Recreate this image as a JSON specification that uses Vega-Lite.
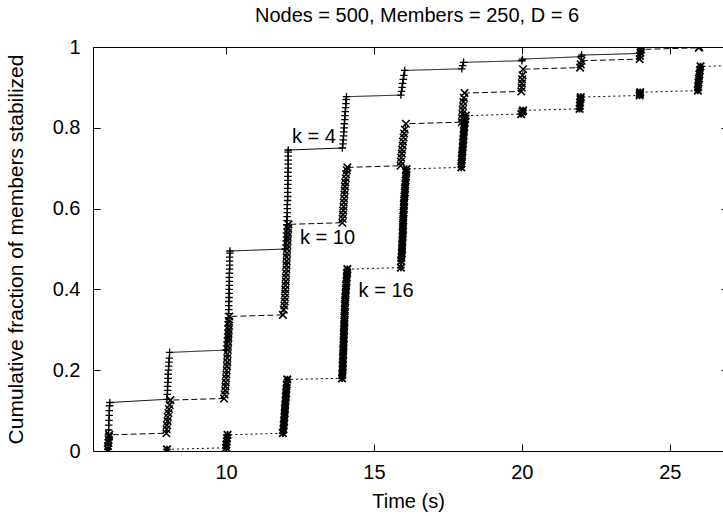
{
 "$schema": "https://vega.github.io/schema/vega-lite/v6.json",
 "width": 630,
 "height": 404,
 "autosize": {"type": "none"},
 "padding": {"left": 93, "top": 47, "right": 0, "bottom": 65},
 "background": "white",
 "config": {
  "view": {"stroke": null},
  "font": "Liberation Sans",
  "axis": {"domainColor": "black", "tickColor": "black", "labelColor": "black", "titleColor": "black", "labelFontSize": 20, "titleFontSize": 20, "titleFontWeight": "normal", "grid": false, "domainWidth": 1, "tickWidth": 1, "labelFont": "Liberation Sans", "titleFont": "Liberation Sans"}
 },
 "title": {"text": "Nodes = 500, Members = 250, D = 6", "fontSize": 20, "fontWeight": "normal", "font": "Liberation Sans", "color": "black", "anchor": "middle", "baseline": "alphabetic", "offset": -5, "dx": 9},
 "datasets": {
  "runs": [
   {"k":"4","t":6,"f":0.004},{"k":"4","t":6.01,"f":0.016},{"k":"4","t":6.02,"f":0.028},{"k":"4","t":6.02,"f":0.04},{"k":"4","t":6.03,"f":0.052},{"k":"4","t":6.03,"f":0.064},{"k":"4","t":6.04,"f":0.076},{"k":"4","t":6.05,"f":0.088},{"k":"4","t":6.05,"f":0.1},{"k":"4","t":6.06,"f":0.112},{"k":"4","t":6.07,"f":0.12},
   {"k":"4","t":8,"f":0.128},{"k":"4","t":8.01,"f":0.14},{"k":"4","t":8.02,"f":0.15},{"k":"4","t":8.02,"f":0.16},{"k":"4","t":8.03,"f":0.17},{"k":"4","t":8.04,"f":0.18},{"k":"4","t":8.04,"f":0.19},{"k":"4","t":8.05,"f":0.2},{"k":"4","t":8.06,"f":0.21},{"k":"4","t":8.07,"f":0.22},{"k":"4","t":8.08,"f":0.23},{"k":"4","t":8.09,"f":0.244},
   {"k":"4","t":10,"f":0.25},{"k":"4","t":10.02,"f":0.26},{"k":"4","t":10.03,"f":0.27},{"k":"4","t":10.04,"f":0.28},{"k":"4","t":10.05,"f":0.29},{"k":"4","t":10.06,"f":0.3},{"k":"4","t":10.06,"f":0.31},{"k":"4","t":10.07,"f":0.32},{"k":"4","t":10.08,"f":0.33},{"k":"4","t":10.08,"f":0.34},{"k":"4","t":10.09,"f":0.35},{"k":"4","t":10.09,"f":0.36},{"k":"4","t":10.09,"f":0.37},{"k":"4","t":10.1,"f":0.38},{"k":"4","t":10.1,"f":0.39},{"k":"4","t":10.1,"f":0.4},{"k":"4","t":10.11,"f":0.41},{"k":"4","t":10.11,"f":0.42},{"k":"4","t":10.11,"f":0.43},{"k":"4","t":10.11,"f":0.44},{"k":"4","t":10.12,"f":0.45},{"k":"4","t":10.12,"f":0.46},{"k":"4","t":10.12,"f":0.47},{"k":"4","t":10.12,"f":0.48},{"k":"4","t":10.13,"f":0.49},{"k":"4","t":10.13,"f":0.495},
   {"k":"4","t":12,"f":0.5},{"k":"4","t":12.02,"f":0.51},{"k":"4","t":12.03,"f":0.52},{"k":"4","t":12.04,"f":0.53},{"k":"4","t":12.04,"f":0.54},{"k":"4","t":12.05,"f":0.55},{"k":"4","t":12.05,"f":0.56},{"k":"4","t":12.06,"f":0.57},{"k":"4","t":12.06,"f":0.58},{"k":"4","t":12.07,"f":0.59},{"k":"4","t":12.07,"f":0.6},{"k":"4","t":12.07,"f":0.61},{"k":"4","t":12.08,"f":0.62},{"k":"4","t":12.08,"f":0.63},{"k":"4","t":12.08,"f":0.64},{"k":"4","t":12.08,"f":0.65},{"k":"4","t":12.09,"f":0.66},{"k":"4","t":12.09,"f":0.67},{"k":"4","t":12.09,"f":0.68},{"k":"4","t":12.09,"f":0.69},{"k":"4","t":12.1,"f":0.7},{"k":"4","t":12.1,"f":0.71},{"k":"4","t":12.1,"f":0.72},{"k":"4","t":12.1,"f":0.73},{"k":"4","t":12.1,"f":0.74},{"k":"4","t":12.1,"f":0.745},
   {"k":"4","t":13.93,"f":0.75},{"k":"4","t":13.95,"f":0.76},{"k":"4","t":13.96,"f":0.77},{"k":"4","t":13.97,"f":0.78},{"k":"4","t":13.98,"f":0.79},{"k":"4","t":13.99,"f":0.8},{"k":"4","t":14,"f":0.81},{"k":"4","t":14.01,"f":0.82},{"k":"4","t":14.02,"f":0.83},{"k":"4","t":14.03,"f":0.84},{"k":"4","t":14.04,"f":0.85},{"k":"4","t":14.05,"f":0.86},{"k":"4","t":14.06,"f":0.87},{"k":"4","t":14.07,"f":0.877},
   {"k":"4","t":15.91,"f":0.881},{"k":"4","t":15.93,"f":0.89},{"k":"4","t":15.95,"f":0.9},{"k":"4","t":15.97,"f":0.91},{"k":"4","t":15.99,"f":0.92},{"k":"4","t":16.01,"f":0.93},{"k":"4","t":16.04,"f":0.942},
   {"k":"4","t":17.97,"f":0.946},{"k":"4","t":18,"f":0.954},{"k":"4","t":18.03,"f":0.962},
   {"k":"4","t":20,"f":0.966},{"k":"4","t":20.02,"f":0.97},
   {"k":"4","t":22,"f":0.976},{"k":"4","t":22.02,"f":0.98},
   {"k":"4","t":24,"f":0.984},{"k":"4","t":24.01,"f":0.988},{"k":"4","t":24.02,"f":0.992},{"k":"4","t":24.03,"f":0.996},{"k":"4","t":24.04,"f":1.0},
   {"k":"10","t":6,"f":0.004},{"k":"10","t":6.01,"f":0.012},{"k":"10","t":6.02,"f":0.02},{"k":"10","t":6.03,"f":0.028},{"k":"10","t":6.04,"f":0.036},{"k":"10","t":6.05,"f":0.04},
   {"k":"10","t":7.98,"f":0.044},{"k":"10","t":7.99,"f":0.054},{"k":"10","t":8,"f":0.064},{"k":"10","t":8.02,"f":0.074},{"k":"10","t":8.03,"f":0.084},{"k":"10","t":8.05,"f":0.094},{"k":"10","t":8.07,"f":0.104},{"k":"10","t":8.09,"f":0.114},{"k":"10","t":8.12,"f":0.126},
   {"k":"10","t":9.93,"f":0.13},{"k":"10","t":9.95,"f":0.14},{"k":"10","t":9.97,"f":0.15},{"k":"10","t":9.98,"f":0.16},{"k":"10","t":9.99,"f":0.17},{"k":"10","t":10,"f":0.18},{"k":"10","t":10.01,"f":0.19},{"k":"10","t":10.02,"f":0.2},{"k":"10","t":10.03,"f":0.21},{"k":"10","t":10.04,"f":0.22},{"k":"10","t":10.04,"f":0.23},{"k":"10","t":10.05,"f":0.24},{"k":"10","t":10.06,"f":0.25},{"k":"10","t":10.06,"f":0.26},{"k":"10","t":10.07,"f":0.27},{"k":"10","t":10.08,"f":0.28},{"k":"10","t":10.08,"f":0.29},{"k":"10","t":10.09,"f":0.3},{"k":"10","t":10.1,"f":0.31},{"k":"10","t":10.1,"f":0.32},{"k":"10","t":10.11,"f":0.333},
   {"k":"10","t":11.92,"f":0.337},{"k":"10","t":11.95,"f":0.35},{"k":"10","t":11.97,"f":0.36},{"k":"10","t":11.98,"f":0.37},{"k":"10","t":11.99,"f":0.38},{"k":"10","t":12,"f":0.39},{"k":"10","t":12,"f":0.4},{"k":"10","t":12.01,"f":0.41},{"k":"10","t":12.02,"f":0.42},{"k":"10","t":12.02,"f":0.43},{"k":"10","t":12.03,"f":0.44},{"k":"10","t":12.04,"f":0.45},{"k":"10","t":12.04,"f":0.46},{"k":"10","t":12.05,"f":0.47},{"k":"10","t":12.05,"f":0.48},{"k":"10","t":12.06,"f":0.49},{"k":"10","t":12.06,"f":0.5},{"k":"10","t":12.07,"f":0.51},{"k":"10","t":12.08,"f":0.52},{"k":"10","t":12.08,"f":0.53},{"k":"10","t":12.09,"f":0.54},{"k":"10","t":12.1,"f":0.55},{"k":"10","t":12.11,"f":0.561},
   {"k":"10","t":13.93,"f":0.565},{"k":"10","t":13.94,"f":0.575},{"k":"10","t":13.95,"f":0.585},{"k":"10","t":13.96,"f":0.595},{"k":"10","t":13.97,"f":0.605},{"k":"10","t":13.98,"f":0.615},{"k":"10","t":13.99,"f":0.625},{"k":"10","t":14,"f":0.635},{"k":"10","t":14.01,"f":0.645},{"k":"10","t":14.02,"f":0.655},{"k":"10","t":14.03,"f":0.665},{"k":"10","t":14.05,"f":0.675},{"k":"10","t":14.06,"f":0.685},{"k":"10","t":14.08,"f":0.695},{"k":"10","t":14.1,"f":0.702},
   {"k":"10","t":15.9,"f":0.706},{"k":"10","t":15.91,"f":0.716},{"k":"10","t":15.92,"f":0.726},{"k":"10","t":15.94,"f":0.736},{"k":"10","t":15.95,"f":0.746},{"k":"10","t":15.97,"f":0.756},{"k":"10","t":15.98,"f":0.766},{"k":"10","t":16,"f":0.776},{"k":"10","t":16.02,"f":0.786},{"k":"10","t":16.04,"f":0.796},{"k":"10","t":16.08,"f":0.81},
   {"k":"10","t":17.97,"f":0.814},{"k":"10","t":17.98,"f":0.824},{"k":"10","t":17.99,"f":0.834},{"k":"10","t":18,"f":0.844},{"k":"10","t":18.01,"f":0.854},{"k":"10","t":18.02,"f":0.864},{"k":"10","t":18.04,"f":0.874},{"k":"10","t":18.06,"f":0.886},
   {"k":"10","t":19.98,"f":0.89},{"k":"10","t":19.99,"f":0.9},{"k":"10","t":20,"f":0.91},{"k":"10","t":20.01,"f":0.92},{"k":"10","t":20.02,"f":0.93},{"k":"10","t":20.04,"f":0.945},
   {"k":"10","t":21.97,"f":0.949},{"k":"10","t":21.99,"f":0.957},{"k":"10","t":22.02,"f":0.966},
   {"k":"10","t":23.98,"f":0.97},{"k":"10","t":23.99,"f":0.978},{"k":"10","t":24.01,"f":0.986},{"k":"10","t":24.03,"f":0.994},
   {"k":"10","t":25.98,"f":0.998},{"k":"10","t":26,"f":1.0},
   {"k":"16","t":8,"f":0.004},
   {"k":"16","t":10,"f":0.008},{"k":"16","t":10.01,"f":0.016},{"k":"16","t":10.02,"f":0.024},{"k":"16","t":10.03,"f":0.032},{"k":"16","t":10.05,"f":0.04},
   {"k":"16","t":11.92,"f":0.044},{"k":"16","t":11.94,"f":0.054},{"k":"16","t":11.95,"f":0.064},{"k":"16","t":11.96,"f":0.074},{"k":"16","t":11.97,"f":0.084},{"k":"16","t":11.98,"f":0.094},{"k":"16","t":11.99,"f":0.104},{"k":"16","t":12,"f":0.114},{"k":"16","t":12.01,"f":0.124},{"k":"16","t":12.02,"f":0.134},{"k":"16","t":12.03,"f":0.144},{"k":"16","t":12.04,"f":0.154},{"k":"16","t":12.05,"f":0.164},{"k":"16","t":12.07,"f":0.177},
   {"k":"16","t":13.92,"f":0.18},{"k":"16","t":13.93,"f":0.19},{"k":"16","t":13.94,"f":0.2},{"k":"16","t":13.94,"f":0.21},{"k":"16","t":13.95,"f":0.22},{"k":"16","t":13.95,"f":0.23},{"k":"16","t":13.96,"f":0.24},{"k":"16","t":13.96,"f":0.25},{"k":"16","t":13.97,"f":0.26},{"k":"16","t":13.97,"f":0.27},{"k":"16","t":13.98,"f":0.28},{"k":"16","t":13.98,"f":0.29},{"k":"16","t":13.99,"f":0.3},{"k":"16","t":13.99,"f":0.31},{"k":"16","t":14,"f":0.32},{"k":"16","t":14,"f":0.33},{"k":"16","t":14.01,"f":0.34},{"k":"16","t":14.01,"f":0.35},{"k":"16","t":14.02,"f":0.36},{"k":"16","t":14.03,"f":0.37},{"k":"16","t":14.03,"f":0.38},{"k":"16","t":14.04,"f":0.39},{"k":"16","t":14.05,"f":0.4},{"k":"16","t":14.06,"f":0.41},{"k":"16","t":14.07,"f":0.42},{"k":"16","t":14.08,"f":0.43},{"k":"16","t":14.09,"f":0.44},{"k":"16","t":14.1,"f":0.45},
   {"k":"16","t":15.91,"f":0.454},{"k":"16","t":15.92,"f":0.47},{"k":"16","t":15.93,"f":0.48},{"k":"16","t":15.94,"f":0.49},{"k":"16","t":15.95,"f":0.5},{"k":"16","t":15.95,"f":0.51},{"k":"16","t":15.96,"f":0.52},{"k":"16","t":15.97,"f":0.53},{"k":"16","t":15.97,"f":0.54},{"k":"16","t":15.98,"f":0.55},{"k":"16","t":15.98,"f":0.56},{"k":"16","t":15.99,"f":0.57},{"k":"16","t":15.99,"f":0.58},{"k":"16","t":16,"f":0.59},{"k":"16","t":16.01,"f":0.6},{"k":"16","t":16.01,"f":0.61},{"k":"16","t":16.02,"f":0.62},{"k":"16","t":16.03,"f":0.63},{"k":"16","t":16.04,"f":0.64},{"k":"16","t":16.05,"f":0.65},{"k":"16","t":16.06,"f":0.66},{"k":"16","t":16.07,"f":0.67},{"k":"16","t":16.08,"f":0.68},{"k":"16","t":16.09,"f":0.69},{"k":"16","t":16.1,"f":0.698},
   {"k":"16","t":17.95,"f":0.702},{"k":"16","t":17.96,"f":0.712},{"k":"16","t":17.97,"f":0.722},{"k":"16","t":17.98,"f":0.732},{"k":"16","t":17.99,"f":0.742},{"k":"16","t":18,"f":0.752},{"k":"16","t":18.01,"f":0.762},{"k":"16","t":18.02,"f":0.772},{"k":"16","t":18.03,"f":0.782},{"k":"16","t":18.04,"f":0.792},{"k":"16","t":18.05,"f":0.802},{"k":"16","t":18.07,"f":0.812},{"k":"16","t":18.08,"f":0.822},{"k":"16","t":18.1,"f":0.83},
   {"k":"16","t":19.98,"f":0.834},{"k":"16","t":20.02,"f":0.84},{"k":"16","t":20.04,"f":0.843},
   {"k":"16","t":21.95,"f":0.847},{"k":"16","t":21.96,"f":0.855},{"k":"16","t":21.97,"f":0.863},{"k":"16","t":21.98,"f":0.871},{"k":"16","t":21.99,"f":0.876},
   {"k":"16","t":23.98,"f":0.88},{"k":"16","t":23.99,"f":0.884},{"k":"16","t":24,"f":0.888},
   {"k":"16","t":25.95,"f":0.892},{"k":"16","t":25.96,"f":0.902},{"k":"16","t":25.97,"f":0.912},{"k":"16","t":25.99,"f":0.922},{"k":"16","t":26,"f":0.932},{"k":"16","t":26.02,"f":0.942},{"k":"16","t":26.04,"f":0.952},
   {"k":"16","t":28,"f":0.956}
  ],
  "labels": [
   {"t":12.23,"f":0.763,"label":"k = 4"},
   {"t":12.5,"f":0.512,"label":"k = 10"},
   {"t":14.48,"f":0.381,"label":"k = 16"}
  ]
 },
 "layer": [
  {
   "data": {"name": "runs"},
   "mark": {"type": "line", "color": "black", "strokeWidth": 1, "clip": true},
   "encoding": {
    "x": {"field": "t", "type": "quantitative", "scale": {"domain": [5.5, 26.8], "nice": false, "zero": false}, "axis": {"orient": "bottom", "values": [10, 15, 20, 25], "title": "Time (s)", "tickSize": -7, "labelPadding": 18, "titlePadding": 9}},
    "y": {"field": "f", "type": "quantitative", "scale": {"domain": [0, 1], "nice": false}, "axis": {"orient": "left", "values": [0, 0.2, 0.4, 0.6, 0.8, 1], "format": "~g", "title": "Cumulative fraction of members stabilized", "titleFontSize": 21, "tickSize": -7, "labelPadding": 20, "titlePadding": 26}},
    "strokeDash": {"field": "k", "type": "nominal", "scale": {"domain": ["4", "10", "16"], "range": [[1, 0], [6, 3], [2, 3]]}, "legend": null},
    "order": {"field": "f", "type": "quantitative"}
   }
  },
  {
   "data": {"name": "runs"},
   "mark": {"type": "point", "filled": false, "color": "black", "size": 56, "opacity": 1, "clip": true},
   "encoding": {
    "x": {"field": "t", "type": "quantitative", "axis": {"orient": "top", "values": [10, 15, 20, 25], "labels": false, "title": null, "tickSize": -7}},
    "y": {"field": "f", "type": "quantitative", "axis": {"orient": "right", "values": [0.2, 0.4, 0.6, 0.8], "labels": false, "title": null, "domain": false, "tickSize": -2}},
    "shape": {"field": "k", "type": "nominal", "scale": {"domain": ["4", "10", "16"], "range": ["M-1,0L1,0M0,-1L0,1", "M-1,-1L1,1M-1,1L1,-1", "M-1,0L1,0M0,-1L0,1M-1,-1L1,1M-1,1L1,-1"]}, "legend": null},
    "strokeWidth": {"field": "k", "type": "nominal", "scale": {"domain": ["4", "10", "16"], "range": [1.3, 1.8, 1.6]}, "legend": null}
   }
  },
  {
   "data": {"name": "labels"},
   "mark": {"type": "text", "align": "left", "baseline": "alphabetic", "fontSize": 20, "font": "Liberation Sans", "color": "black"},
   "encoding": {
    "x": {"field": "t", "type": "quantitative", "axis": null},
    "y": {"field": "f", "type": "quantitative", "axis": null},
    "text": {"field": "label"}
   }
  }
 ],
 "resolve": {"axis": {"x": "independent", "y": "independent"}}
}
